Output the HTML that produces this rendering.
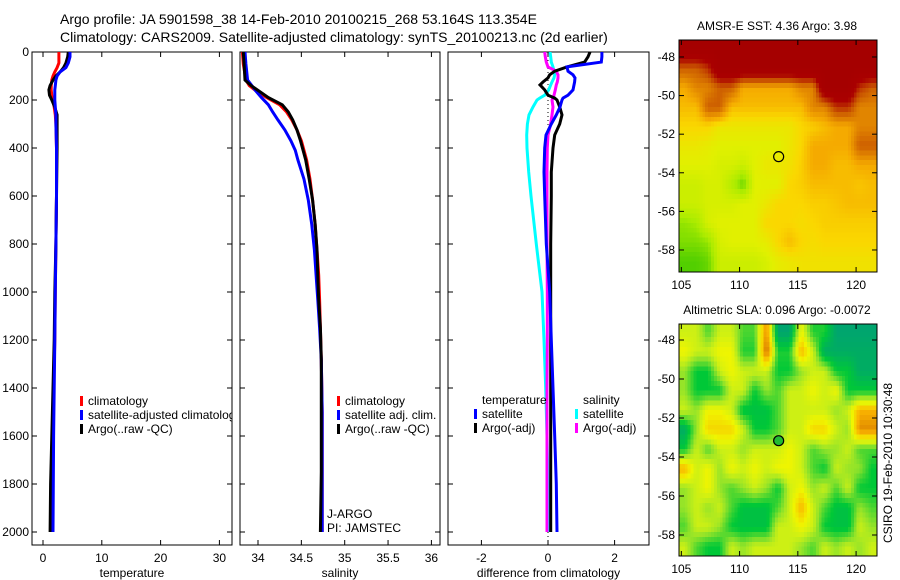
<!DOCTYPE html>
<html><head><meta charset="utf-8">
<style>
html,body{margin:0;padding:0;background:#fff;}
svg{display:block;font-family:"Liberation Sans",sans-serif;}
</style></head>
<body>
<svg id="fig" width="900" height="580" viewBox="0 0 900 580">
<defs>
<clipPath id="cp1"><rect x="32" y="52" width="200" height="493"/></clipPath>
<clipPath id="cp2"><rect x="240" y="52" width="200" height="493"/></clipPath>
<clipPath id="cp3"><rect x="448" y="52" width="201" height="493"/></clipPath>
<clipPath id="cpm1"><rect x="679" y="40" width="198" height="232"/></clipPath>
<clipPath id="cpm2"><rect x="679" y="324" width="198" height="232"/></clipPath>
</defs>
<text x="60" y="24" font-size="14">Argo profile: JA 5901598_38 14-Feb-2010 20100215_268 53.164S 113.354E</text>
<text x="60" y="42" font-size="14">Climatology: CARS2009. Satellite-adjusted climatology: synTS_20100213.nc (2d earlier)</text>
<g id="layer"></g>
</svg>
<script>
// ---------- profile data ----------
const tDepth=[0,20,46,65,83,100,117,140,158,180,200,230,262,300,400,600,800,1000,1200,1400,1600,1800,2000];
const tClim=[2.7,2.7,2.7,2.4,2.0,1.7,1.5,1.4,1.4,1.5,1.7,1.9,2.1,2.2,2.3,2.3,2.2,2.1,2.0,1.8,1.6,1.4,1.3];
const tSat=[4.6,4.6,4.3,3.9,2.9,2.4,2.2,2.1,2.0,2.0,2.0,2.1,2.2,2.2,2.3,2.3,2.2,2.1,2.0,1.9,1.8,1.75,1.7];
const tArgo=[4.3,4.2,3.9,3.5,2.9,2.2,1.7,1.2,1.0,1.1,1.5,2.0,2.4,2.4,2.4,2.3,2.2,2.0,1.9,1.7,1.5,1.3,1.2];
const sDepth=[0,50,117,140,160,190,220,250,283,325,370,410,450,530,617,720,825,930,1033,1150,1283,1500,1750,2000];
const sClim=[33.82,33.83,33.86,33.90,33.97,34.10,34.25,34.33,34.39,34.45,34.50,34.53,34.56,34.60,34.63,34.66,34.68,34.70,34.71,34.72,34.73,34.74,34.74,34.74];
const sSat=[33.85,33.86,33.88,33.93,33.97,34.04,34.12,34.17,34.23,34.31,34.38,34.43,34.46,34.53,34.58,34.62,34.65,34.67,34.69,34.71,34.73,34.74,34.74,34.74];
const sArgo=[33.83,33.84,33.85,33.92,34.0,34.12,34.28,34.35,34.40,34.45,34.49,34.52,34.55,34.59,34.63,34.66,34.68,34.69,34.70,34.72,34.73,34.73,34.73,34.72];
const dDepth=[0,20,42,62,80,95,108,125,137,158,180,192,200,229,262,300,346,400,500,600,800,1000,1200,1400,1600,1800,2000];
const dTSat=[1.62,1.62,1.6,0.57,0.6,0.75,0.81,0.8,0.78,0.75,0.6,0.45,0.42,0.36,0.25,0.1,-0.06,-0.1,-0.12,-0.1,-0.05,0.05,0.1,0.15,0.2,0.25,0.27];
const dTArgo=[1.26,1.2,1.1,0.57,0.2,0.05,0.0,-0.15,-0.24,-0.1,0.0,0.2,0.27,0.35,0.42,0.35,0.2,0.15,0.1,0.1,0.08,0.08,0.08,0.08,0.08,0.08,0.08];
const dSSat=[0.06,0.08,0.1,0.15,0.18,0.2,0.18,0.12,0.08,0.02,-0.1,-0.25,-0.33,-0.45,-0.57,-0.62,-0.64,-0.63,-0.58,-0.51,-0.35,-0.18,-0.12,-0.07,-0.03,0.0,0.03];
const dSArgo=[-0.1,-0.08,-0.05,0.0,0.25,0.3,0.3,0.28,0.25,0.22,0.18,0.15,0.12,0.15,0.12,0.08,0.0,-0.02,-0.03,-0.03,-0.03,-0.02,-0.02,-0.03,-0.03,-0.03,-0.03];
const depthTicks=[0,200,400,600,800,1000,1200,1400,1600,1800,2000];
const tTicks=[0,10,20,30];
const sTicks=[34,34.5,35,35.5,36];
const dTicks=[-2,0,2];
// ---------- map data (1-degree cells, rows from north) ----------
const mapLons=[105.3,106.3,107.3,108.3,109.3,110.3,111.3,112.3,113.3,114.3,115.3,116.3,117.3,118.3,119.3,120.3,121.3];
const mapLats=[-47.6,-48.6,-49.6,-50.6,-51.6,-52.6,-53.6,-54.6,-55.6,-56.6,-57.6,-58.6];
const sst=[
[8,8,8,8,8,8,8,8,8,8,8,8,8,8,8,8,8],
[6,6,6.5,8,8,8,8,8,8,8,8,8,8,8,8,8,8],
[5,5.5,5.5,6,6,5,5,5,5,5,5.5,5.5,8,8,8,6.5,6],
[4.8,4.8,6,6,4.8,4.8,4.8,4.8,4.8,4.8,4.8,5.5,5.5,6.5,6.5,5.5,5.5],
[4.5,4.5,4.5,4.2,4.2,4.2,4.2,4.2,4.2,4.2,4.5,4.6,4.8,5,5,5.5,5.5],
[4.2,4.2,4.1,4,4,4,4,4,4,4.2,4.5,5,5,5,5,6,6],
[4,4,4,3.9,3.9,3.8,4,4.2,4.2,4.3,4.6,5,5,4.8,4.8,5,5],
[3.8,3.8,3.9,3.9,3.6,3.2,4,4,4,4.5,4.6,4.8,4.8,4.8,4.8,4.7,4.8],
[3.8,3.8,3.9,3.9,3.9,4,4,4.2,4.5,4.5,4.5,4.6,4.6,4.7,4.8,4.8,4.8],
[3.4,3.5,3.9,4,4,4,4,4.5,4.5,4.5,4.4,4.5,4.6,4.6,4.6,4.6,4.6],
[3.3,3.3,3.4,3.9,4,4,4,4.1,4.5,4.8,4.5,4.4,4.5,4.5,4.5,4.5,4.5],
[3.1,3.1,3.2,3.8,3.8,3.8,3.8,3.9,4.1,4.2,4.3,4.3,4.3,4.3,4.3,4.3,4.3]];
const sla=[
[0.05,0.05,-0.05,0.05,0.05,-0.05,-0.05,0.25,-0.2,-0.2,0.1,-0.08,-0.08,-0.2,-0.2,-0.2,-0.2],
[0.1,0.05,0.05,0.1,0.1,-0.08,-0.08,0.3,-0.08,-0.08,0.2,0.05,-0.18,-0.18,-0.18,-0.18,-0.18],
[0.0,-0.1,-0.1,0.05,0.1,0.05,0.05,0.05,-0.1,-0.1,0.0,0.05,0.05,-0.1,-0.1,-0.18,-0.18],
[0.0,-0.1,-0.1,-0.1,0.05,0.05,-0.1,0.0,-0.05,0.05,0.05,0.1,0.05,0.1,-0.1,-0.1,-0.1],
[0.05,0.0,0.1,0.1,0.05,-0.12,-0.12,-0.12,-0.05,0.05,0.05,0.05,0.05,0.0,0.05,0.2,0.2],
[-0.18,0.0,0.15,0.15,0.15,0.05,-0.1,-0.1,-0.05,0.05,0.05,0.15,0.15,0.05,0.0,0.25,0.25],
[-0.1,0.05,-0.05,0.05,0.05,0.0,0.05,0.05,0.05,0.1,0.05,-0.05,0.0,0.0,0.05,-0.05,-0.05],
[0.2,0.05,0.1,0.0,0.1,0.05,0.1,0.05,0.1,0.1,0.05,-0.05,-0.1,0.05,0.0,0.0,-0.1],
[0.0,0.05,0.1,0.0,-0.05,0.0,0.05,0.0,-0.1,0.05,0.1,0.0,0.05,-0.05,0.05,-0.1,-0.1],
[0.0,0.05,0.0,0.05,-0.05,-0.12,-0.12,-0.12,-0.05,0.05,0.2,0.05,-0.05,-0.12,-0.12,0.0,-0.05],
[-0.05,0.05,0.05,0.0,-0.1,-0.12,-0.12,-0.12,0.05,0.05,0.1,0.05,-0.1,-0.12,-0.12,0.05,0.0],
[0.05,-0.05,-0.1,-0.1,0.05,0.0,0.05,0.05,0.05,0.05,0.0,-0.05,0.05,0.0,0.05,0.0,0.05]];
const lonTicks=[105,110,115,120];
const latTicks=[-48,-50,-52,-54,-56,-58];
const argoLon=113.354, argoLat=-53.164;

const NS='http://www.w3.org/2000/svg';
const layer=document.getElementById('layer');
function mk(tag,attrs,parent){const e=document.createElementNS(NS,tag);for(const k in attrs)e.setAttribute(k,attrs[k]);(parent||layer).appendChild(e);return e;}
const yD=d=>52+0.24*d;
const xT=t=>43+5.88*t;
const xS=s=>258+86.7*(s-34);
const xDf=v=>548+33.3*v;

function panel(name,x0,w,xf,ticks,fmt,label,cp){
  const g=mk('g',{});
  
  
  const r=mk('rect',{x:x0,y:52,width:w,height:493,fill:'#fff',stroke:'#000','stroke-width':1},g);
  
  
  depthTicks.forEach(d=>{
    mk('line',{x1:x0,x2:x0+5,y1:yD(d),y2:yD(d),stroke:'#000'},g);
    mk('line',{x1:x0+w-5,x2:x0+w,y1:yD(d),y2:yD(d),stroke:'#000'},g);
  });
  ticks.forEach(t=>{
    const x=xf(t);
    mk('line',{x1:x,x2:x,y1:545,y2:540,stroke:'#000'},g);
    mk('line',{x1:x,x2:x,y1:52,y2:57,stroke:'#000'},g);
    const tx=mk('text',{x:x,y:562,'font-size':12,'text-anchor':'middle'},g);
    tx.textContent=fmt(t);
    
    
  });
  const xl=mk('text',{x:x0+w/2,y:577,'font-size':12,'text-anchor':'middle'},g);
  xl.textContent=label;
  
  
  const inner=mk('g',{'clip-path':'url(#'+cp+')'},g);
  return inner;
}
function line(g,depths,vals,xf,color,nm,w){
  const pts=depths.map((d,i)=>xf(vals[i]).toFixed(1)+','+yD(d).toFixed(1)).join(' ');
  const p=mk('polyline',{points:pts,fill:'none',stroke:color,'stroke-width':w||3,'stroke-linejoin':'miter'},g);
  
  
}
function legend(g,x,y,items){
  items.forEach((it,i)=>{
    const yy=y+i*14;
    if(it.c){
      const m=mk('rect',{x:x,y:yy-9,width:3,height:10,fill:it.c},g);
      
      
    }
    const t=mk('text',{x:x+8,y:yy,'font-size':12},g);
    t.textContent=it.t;
    
    
  });
}
depthTicks.forEach(d=>{
  const t=mk('text',{x:29,y:yD(d)+4,'font-size':12,'text-anchor':'end'});
  t.textContent=d;
  
  
});
const g1=panel('temperature-panel',32,200,xT,tTicks,t=>t,'temperature','cp1');
line(g1,tDepth,tClim,xT,'#ff0000','temp-climatology-line');
line(g1,tDepth,tArgo,xT,'#000000','temp-argo-line');
line(g1,tDepth,tSat,xT,'#0000ff','temp-satellite-line');
legend(g1,80,405,[{c:'#f00',t:'climatology'},{c:'#00f',t:'satellite-adjusted climatology'},{c:'#000',t:'Argo(..raw -QC)'}]);
const g2=panel('salinity-panel',240,200,xS,sTicks,t=>t,'salinity','cp2');
line(g2,sDepth,sClim,xS,'#ff0000','sal-climatology-line');
line(g2,sDepth,sSat,xS,'#0000ff','sal-satellite-line');
line(g2,sDepth,sArgo,xS,'#000000','sal-argo-line');
legend(g2,337,405,[{c:'#f00',t:'climatology'},{c:'#00f',t:'satellite adj. clim.'},{c:'#000',t:'Argo(..raw -QC)'}]);
legend(g2,319,518,[{t:'J-ARGO'},{t:'PI: JAMSTEC'}]);
const g3=panel('difference-panel',448,201,xDf,dTicks,t=>t,'difference from climatology','cp3');
const zl=mk('line',{x1:xDf(0),x2:xDf(0),y1:52,y2:545,stroke:'#000','stroke-dasharray':'1,3'},g3);


line(g3,dDepth,dSSat,xDf,'#00ffff','sal-satellite-diff-line');
line(g3,dDepth,dSArgo,xDf,'#ff00ff','sal-argo-diff-line');
line(g3,dDepth,dTArgo,xDf,'#000000','temp-argo-diff-line');
line(g3,dDepth,dTSat,xDf,'#0000ff','temp-satellite-diff-line');
legend(g3,474,404,[{t:'temperature'},{c:'#00f',t:'satellite'},{c:'#000',t:'Argo(-adj)'}]);
legend(g3,575,404,[{t:'salinity'},{c:'#0ff',t:'satellite'},{c:'#f0f',t:'Argo(-adj)'}]);

// ---------- maps ----------
function interp(stops,v){
  if(v<=stops[0][0])return stops[0][1];
  for(let i=1;i<stops.length;i++){
    if(v<=stops[i][0]){const a=stops[i-1],b=stops[i],f=(v-a[0])/(b[0]-a[0]);
      return [0,1,2].map(k=>Math.round(a[1][k]+(b[1][k]-a[1][k])*f));}
  }
  return stops[stops.length-1][1];
}
const sstStops=[[3.0,[60,200,0]],[3.5,[170,235,0]],[4.0,[225,240,0]],[4.5,[250,215,0]],[5.0,[245,170,0]],[6.0,[205,95,0]],[7.0,[170,0,0]],[8.0,[165,0,0]]];
const slaStops=[[-0.2,[0,165,110]],[-0.1,[0,200,55]],[0.0,[150,228,40]],[0.05,[205,240,20]],[0.1,[240,245,0]],[0.2,[250,180,0]],[0.3,[200,100,0]]];
// bilinear sample of grid at fractional row/col
function sample(grid,r,c){
  const R=grid.length-1,C=grid[0].length-1;
  r=Math.max(0,Math.min(R,r));c=Math.max(0,Math.min(C,c));
  const r0=Math.floor(r),c0=Math.floor(c),r1=Math.min(R,r0+1),c1=Math.min(C,c0+1),fr=r-r0,fc=c-c0;
  return grid[r0][c0]*(1-fr)*(1-fc)+grid[r0][c1]*(1-fr)*fc+grid[r1][c0]*fr*(1-fc)+grid[r1][c1]*fr*fc;
}
function map(name,top,latTop,pxDeg,grid,stops,cp,title,filled){
  const x0=679,lonL=104.8,pxLon=11.65,SUB=4;
  const xm=lon=>x0+(lon-lonL)*pxLon;
  const ym=lat=>top+(latTop-lat)*pxDeg;
  const g=mk('g',{});
  
  
  const cells=mk('g',{'clip-path':'url(#'+cp+')','shape-rendering':'crispEdges'},g);
  const nr=mapLats.length, nc=mapLons.length;
  for(let i=-1;i<nr*SUB+1;i++){
    for(let j=-1;j<nc*SUB+1;j++){
      const rf=(i+0.5)/SUB-0.5, cf=(j+0.5)/SUB-0.5;
      const v=sample(grid,rf,cf);
      const c=interp(stops,v);
      const lon=mapLons[0]-0.5+(j)/SUB, lat=mapLats[0]+0.5-(i)/SUB;
      const r=mk('rect',{x:xm(lon).toFixed(2),y:ym(lat).toFixed(2),width:(pxLon/SUB+0.6).toFixed(2),height:(pxDeg/SUB+0.6).toFixed(2),fill:'rgb('+c.join(',')+')'},cells);
      
      
    }
  }
  const fr=mk('rect',{x:x0,y:top,width:198,height:232,fill:'none',stroke:'#000'},g);
  
  
  lonTicks.forEach(l=>{
    const x=xm(l);
    mk('line',{x1:x,x2:x,y1:top+232,y2:top+227,stroke:'#000'},g);
    mk('line',{x1:x,x2:x,y1:top,y2:top+5,stroke:'#000'},g);
    const t=mk('text',{x:x,y:top+249,'font-size':12,'text-anchor':'middle'},g);
    t.textContent=l;
    
    
  });
  latTicks.forEach(l=>{
    const y=ym(l);
    mk('line',{x1:x0,x2:x0+5,y1:y,y2:y,stroke:'#000'},g);
    mk('line',{x1:x0+193,x2:x0+198,y1:y,y2:y,stroke:'#000'},g);
    const t=mk('text',{x:675,y:y+4,'font-size':12,'text-anchor':'end'},g);
    t.textContent=l;
    
    
  });
  const tt=mk('text',{x:777,y:top-10,'font-size':12,'text-anchor':'middle'},g);
  tt.textContent=title;
  
  
  const c=mk('circle',{cx:xm(argoLon),cy:ym(argoLat),r:5,fill:filled?'#22bb33':'none',stroke:'#000','stroke-width':1.2},g);
  
  
}
map('sst-map',40,-47.12,19.3,sst,sstStops,'cpm1','AMSR-E SST: 4.36 Argo: 3.98',false);
map('sla-map',324,-47.18,19.5,sla,slaStops,'cpm2','Altimetric SLA: 0.096 Argo: -0.0072',true);
const cs=mk('text',{x:0,y:0,'font-size':12,'text-anchor':'middle',transform:'translate(892,463) rotate(-90)'});
cs.textContent='CSIRO 19-Feb-2010 10:30:48';


</script>
</body></html>
